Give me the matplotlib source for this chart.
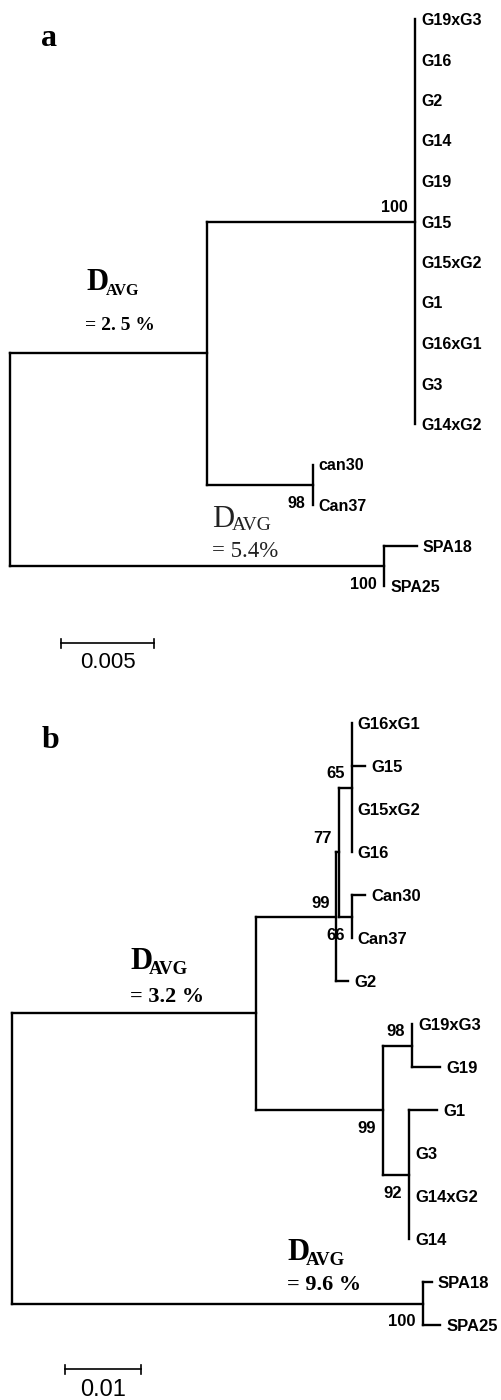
import matplotlib
matplotlib.use('Agg')
import matplotlib.pyplot as plt

W, H = 502, 1400
LW = 1.7
SANS = 'Liberation Sans'
SERIF = 'Liberation Serif'

# ---- panel a : node names, parent, branch length (substitutions/site)
A_NODE = ['root', 'n1', 'g',
          'G19xG3', 'G16', 'G2', 'G14', 'G19', 'G15', 'G15xG2', 'G1', 'G16xG1', 'G3', 'G14xG2',
          'can', 'can30', 'Can37',
          'spa', 'SPA18', 'SPA25']
A_PARENT = [None, 'root', 'n1',
            'g', 'g', 'g', 'g', 'g', 'g', 'g', 'g', 'g', 'g', 'g',
            'n1', 'can', 'can',
            'root', 'spa', 'spa']
A_LENGTH = [0.0, 0.01057, 0.0112,
            0, 0, 0, 0, 0, 0, 0, 0, 0, 0, 0,
            0.0057, 0, 0,
            0.02012, 0.00174, 0]
A_SUPPORT = {'g': 100, 'can': 98, 'spa': 100}
A_SCALE = 0.005

# ---- panel b
B_NODE = ['root', 'big', 'n99a', 'n77', 'n65',
          'G16xG1', 'G15', 'G15xG2', 'G16',
          'canb', 'Can30', 'Can37', 'G2',
          'n99b', 'n98', 'G19xG3', 'G19',
          'n92', 'G1', 'G3', 'G14xG2', 'G14',
          'spab', 'SPA18', 'SPA25']
B_PARENT = [None, 'root', 'big', 'n99a', 'n77',
            'n65', 'n65', 'n65', 'n65',
            'n77', 'canb', 'canb', 'n99a',
            'big', 'n99b', 'n98', 'n98',
            'n99b', 'n92', 'n92', 'n92', 'n92',
            'root', 'spab', 'spab']
B_LENGTH = [0.0, 0.0321, 0.01063, 0.00033, 0.00167,
            0, 0.00175, 0, 0,
            0.00167, 0.00175, 0, 0.00151,
            0.01679, 0.00382, 0, 0.00364,
            0.00342, 0.00364, 0, 0, 0,
            0.05408, 0.00118, 0.00229]
B_SUPPORT = {'n99a': 99, 'n77': 77, 'n65': 65, 'canb': 66,
             'n98': 98, 'n99b': 99, 'n92': 92, 'spab': 100}
B_SCALE = 0.01

# label side for support values (style only)
A_SIDE = {'g': 'above', 'can': 'below', 'spa': 'below'}
B_SIDE = {'n99a': 'above', 'n77': 'above', 'n65': 'above', 'canb': 'below',
          'n98': 'above', 'n99b': 'below', 'n92': 'below', 'spab': 'below'}


def layout(nodes, parents, lengths):
    kids = {n: [] for n in nodes}
    for n, p in zip(nodes, parents):
        if p is not None:
            kids[p].append(n)
    blen = dict(zip(nodes, lengths))
    x, y, leaves = {}, {}, []

    def walk(n, x0):
        x[n] = x0 + blen[n]
        if not kids[n]:
            y[n] = len(leaves)
            leaves.append(n)
        else:
            for c in kids[n]:
                walk(c, x[n])
            y[n] = (y[kids[n][0]] + y[kids[n][-1]]) / 2.0

    walk(nodes[0], 0.0)
    return kids, x, y, leaves


def draw_tree(ax, nodes, parents, lengths, support, side, fs):
    kids, x, y, leaves = layout(nodes, parents, lengths)
    for n, p in zip(nodes, parents):
        if p is not None and x[n] > x[p]:
            ax.plot([x[p], x[n]], [y[n], y[n]], color='k', lw=LW,
                    solid_capstyle='projecting')
        if kids[n]:
            ax.plot([x[n], x[n]], [y[kids[n][0]], y[kids[n][-1]]], color='k',
                    lw=LW, solid_capstyle='projecting')
    for n in leaves:
        ax.annotate(n, (x[n], y[n]), xytext=(6, 0), textcoords='offset pixels',
                    ha='left', va='center_baseline', fontsize=fs,
                    fontweight='bold', family=SANS)
    for n, v in support.items():
        dy = 15 if side[n] == 'above' else -17
        ax.annotate(str(v), (x[n], y[n]), xytext=(-7, dy), textcoords='offset pixels',
                    ha='right', va='center_baseline', fontsize=fs,
                    fontweight='bold', family=SANS)


def make_axes(fig, top, bottom, x0, ppu, y0, row):
    ax = fig.add_axes([0, 1 - bottom / H, 1, (bottom - top) / H])
    ax.set_xlim(-x0 / ppu, (W - x0) / ppu)
    ax.set_ylim((bottom - top - y0) / row, -y0 / row)
    ax.axis('off')
    return ax


def scale_bar(ax, x_start, y_pos, length, row, label, fs, lab_dy):
    ax.plot([x_start, x_start + length], [y_pos, y_pos], color='k', lw=1.2)
    for xe in (x_start, x_start + length):
        ax.plot([xe, xe], [y_pos - 4.5 / row, y_pos + 4.5 / row], color='k', lw=1.2)
    ax.annotate(label, (x_start + length / 2, y_pos), xytext=(0, -lab_dy),
                textcoords='offset pixels', ha='center', va='center_baseline',
                fontsize=fs, family=SANS)


def ptext(fig, x, y, s, **kw):
    fig.text(x / W, 1 - y / H, s, ha='left', va='baseline', **kw)


fig = plt.figure(figsize=(W / 100, H / 100), dpi=100)

# panel a
ax_a = make_axes(fig, 0, 700, 10, 18600, 19, 40.5)
draw_tree(ax_a, A_NODE, A_PARENT, A_LENGTH, A_SUPPORT, A_SIDE, 11.5)
scale_bar(ax_a, (61 - 10) / 18600, (643 - 19) / 40.5, A_SCALE, 40.5, '0.005', 16, 17)

ptext(fig, 41, 46, 'a', fontsize=23, fontweight='bold', family=SERIF)
ptext(fig, 86, 290, 'D', fontsize=22, fontweight='bold', family=SERIF)
ptext(fig, 106, 295, 'AVG', fontsize=11.5, fontweight='bold', family=SERIF)
ptext(fig, 85, 330, '= 2. 5 %', fontsize=14, fontweight='bold', family=SERIF)
ptext(fig, 212, 527, 'D', fontsize=22, family=SERIF, color='#222222')
ptext(fig, 232, 530, 'AVG', fontsize=14, family=SERIF, color='#222222')
ptext(fig, 212, 557, '= 5.4%', fontsize=16.5, family=SERIF, color='#222222')

# panel b
ax_b = make_axes(fig, 700, 1400, 11.7, 7600, 23, 43.0)
draw_tree(ax_b, B_NODE, B_PARENT, B_LENGTH, B_SUPPORT, B_SIDE, 12)
scale_bar(ax_b, (65 - 11.7) / 7600, (1369 - 723) / 43.0, B_SCALE, 43.0, '0.01', 17, 19)

ptext(fig, 42, 748, 'b', fontsize=23, fontweight='bold', family=SERIF)
ptext(fig, 130, 969, 'D', fontsize=22, fontweight='bold', family=SERIF)
ptext(fig, 149, 974, 'AVG', fontsize=13.5, fontweight='bold', family=SERIF)
ptext(fig, 130, 1002, '= 3.2 %', fontsize=16, fontweight='bold', family=SERIF)
ptext(fig, 287, 1260, 'D', fontsize=22, fontweight='bold', family=SERIF)
ptext(fig, 306, 1265, 'AVG', fontsize=13.5, fontweight='bold', family=SERIF)
ptext(fig, 287, 1290, '= 9.6 %', fontsize=16, fontweight='bold', family=SERIF)

fig.savefig('out.png', dpi=100)
